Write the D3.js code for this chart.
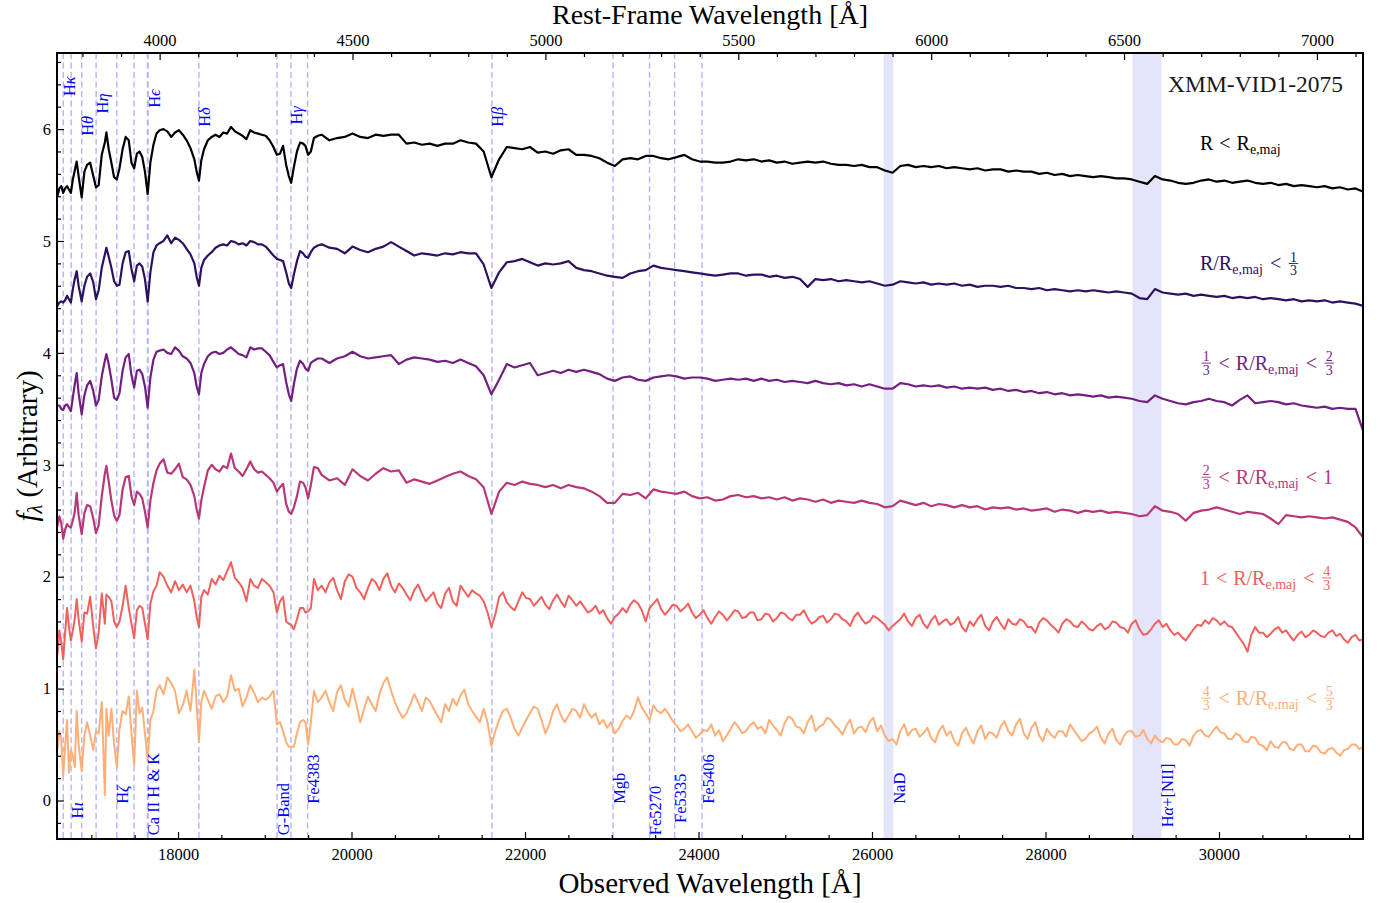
<!DOCTYPE html>
<html><head><meta charset="utf-8">
<script src="https://cdn.jsdelivr.net/npm/d3@7"></script>
<style>
body{margin:0;background:#fff;}
svg text{font-family:"Liberation Serif","Times New Roman",serif;}
</style></head><body>
<svg id="chart" width="1382" height="903"></svg>
<script>
// ---------------- DATA ----------------
const onePlusZ = 4.447;
const obsDomain = [16605, 31660];
const yDomain = [-0.344, 6.68];

const restWaveBlue = [3735,3740,3745,3750,3755,3760,3765,3770,3775,3780,3785,3790,
 3798,3805,3812,3820,3828,3835,3842,3850,3858,3862,3868,3875,3882,3889,3896,3904,3912,3920,3927,3934,3941,3948,3955,3962,3969,3976,3984,3992,
 4000,4010,4020,4030,4040,4050,4060,4070,4080,4090,
 4096,4102,4108,4115,
 4125,4135,4145,4155,4165,4175,4185,4195,4205,4215,4225,4235,4245,4255,4265,4275,4285,4295,
 4304,4312,4320,4328,4335,4341,4348,4356,4364,4372,4378,4385,4392,4400,4410];
const restWaveRed = [4420,4440,4460,4480,4500,4520,4540,4560,4580,4600,
 4620,4640,4660,4680,4700,4720,4740,4760,4780,4800,
 4820,4840,4860,4880,4900,4920,4940,4960,4980,5000,
 5020,5040,5060,5080,5100,5120,5140,5160,5180,5200,
 5220,5240,5260,5280,5300,5320,5340,5360,5380,5400,
 5420,5440,5460,5480,5500,5520,5540,5560,5580,5600,
 5620,5640,5660,5680,5700,5720,5740,5760,5780,5800,
 5820,5840,5860,5880,5900,5920,5940,5960,5980,6000,
 6020,6040,6060,6080,6100,6120,6140,6160,6180,6200,
 6220,6240,6260,6280,6300,6320,6340,6360,6380,6400,
 6420,6440,6460,6480,6500,6520,6540,6560,6580,6600,
 6620,6640,6660,6680,6700,6720,6740,6760,6780,6800,
 6820,6840,6860,6880,6900,6920,6940,6960,6980,7000,
 7020,7040,7060,7080,7100,7120];
// finer sampling used for the two noisiest (outermost) annuli
const restWaveRedFine = [4420,4430,4440,4450,4460,4470,4480,4490,4500,4510,4520,4530,4540,4550,4560,4570,4580,4590,4600,4610,
 4620,4630,4640,4650,4660,4670,4680,4690,4700,4710,4720,4730,4740,4750,4760,4770,4780,4790,4800,4810,
 4820,4830,4840,4850,4860,4870,4880,4890,4900,4910,4920,4930,4940,4950,4960,4970,4980,4990,5000,5010,
 5020,5030,5040,5050,5060,5070,5080,5090,5100,5110,5120,5130,5140,5150,5160,5170,5180,5190,5200,5210,
 5220,5230,5240,5250,5260,5270,5280,5290,5300,5310,5320,5330,5340,5350,5360,5370,5380,5390,5400,5410,
 5420,5430,5440,5450,5460,5470,5480,5490,5500,5510,5520,5530,5540,5550,5560,5570,5580,5590,5600,5610,
 5620,5630,5640,5650,5660,5670,5680,5690,5700,5710,5720,5730,5740,5750,5760,5770,5780,5790,5800,5810,
 5820,5830,5840,5850,5860,5870,5880,5890,5900,5910,5920,5930,5940,5950,5960,5970,5980,5990,6000,6010,
 6020,6030,6040,6050,6060,6070,6080,6090,6100,6110,6120,6130,6140,6150,6160,6170,6180,6190,6200,6210,
 6220,6230,6240,6250,6260,6270,6280,6290,6300,6310,6320,6330,6340,6350,6360,6370,6380,6390,6400,6410,
 6420,6430,6440,6450,6460,6470,6480,6490,6500,6510,6520,6530,6540,6550,6560,6570,6580,6590,6600,6610,
 6620,6630,6640,6650,6660,6670,6680,6690,6700,6710,6720,6730,6740,6750,6760,6770,6780,6790,6800,6810,
 6820,6830,6840,6850,6860,6870,6880,6890,6900,6910,6920,6930,6940,6950,6960,6970,6980,6990,7000,7010,
 7020,7030,7040,7050,7060,7070,7080,7090,7100,7110,7120];
const restWave = restWaveBlue.concat(restWaveRed);
const restWaveFine = restWaveBlue.concat(restWaveRedFine);

const fluxInner = [5.40,5.47,5.49,5.43,5.47,5.49,5.46,5.43,5.55,5.63,5.71,5.58,
 5.39,5.62,5.68,5.70,5.58,5.48,5.50,5.77,5.88,5.97,5.82,5.70,5.57,5.55,5.65,5.82,5.93,5.90,5.70,5.65,5.78,5.80,5.75,5.62,5.42,5.70,5.86,5.96,
 5.99,6.00,5.98,5.93,5.97,5.99,5.95,5.90,5.83,5.73,
 5.62,5.54,5.72,5.82,
 5.90,5.93,5.95,5.93,5.97,5.96,6.02,5.98,5.96,5.94,5.91,5.99,5.97,5.96,5.95,5.94,5.90,5.84,
 5.77,5.78,5.85,5.68,5.58,5.52,5.66,5.80,5.88,5.87,5.85,5.77,5.80,5.92,5.94,
 5.95,5.90,5.92,5.93,5.96,5.93,5.92,5.95,5.94,5.95,
 5.95,5.87,5.88,5.86,5.87,5.85,5.87,5.87,5.90,5.88,
 5.87,5.80,5.57,5.73,5.84,5.83,5.82,5.84,5.79,5.80,
 5.78,5.81,5.82,5.77,5.77,5.76,5.74,5.70,5.67,5.73,
 5.74,5.73,5.76,5.76,5.74,5.73,5.75,5.77,5.73,5.71,
 5.71,5.70,5.70,5.71,5.73,5.72,5.73,5.71,5.72,5.70,
 5.71,5.69,5.70,5.71,5.70,5.71,5.69,5.68,5.68,5.67,
 5.68,5.66,5.66,5.63,5.61,5.67,5.68,5.66,5.67,5.66,
 5.67,5.65,5.66,5.65,5.64,5.65,5.63,5.64,5.64,5.62,
 5.63,5.62,5.62,5.60,5.61,5.59,5.60,5.58,5.59,5.58,
 5.57,5.58,5.57,5.56,5.56,5.55,5.53,5.51,5.58,5.55,
 5.54,5.52,5.51,5.52,5.54,5.55,5.53,5.54,5.52,5.53,
 5.54,5.52,5.51,5.52,5.50,5.51,5.49,5.50,5.49,5.48,
 5.49,5.47,5.48,5.46,5.47,5.44];

const fluxBin1 = [4.42,4.45,4.46,4.45,4.47,4.51,4.48,4.45,4.57,4.66,4.73,4.60,
 4.46,4.60,4.68,4.71,4.63,4.48,4.56,4.76,4.88,4.94,4.86,4.76,4.64,4.60,4.61,4.80,4.90,4.91,4.75,4.64,4.78,4.80,4.77,4.66,4.46,4.72,4.90,4.96,
 4.98,5.00,5.05,4.98,5.03,5.01,4.98,4.93,4.88,4.80,
 4.68,4.60,4.76,4.83,
 4.87,4.90,4.94,4.96,4.97,4.96,5.00,4.99,4.97,4.98,4.96,5.00,4.99,4.97,4.97,4.95,4.91,4.87,
 4.84,4.83,4.82,4.72,4.62,4.58,4.70,4.82,4.91,4.89,4.86,4.85,4.90,4.94,4.96,
 4.97,4.94,4.93,4.89,4.95,4.92,4.90,4.93,4.95,4.99,
 4.95,4.91,4.87,4.89,4.88,4.87,4.89,4.88,4.90,4.89,
 4.89,4.79,4.58,4.72,4.81,4.82,4.84,4.81,4.78,4.80,
 4.79,4.80,4.82,4.76,4.74,4.73,4.71,4.69,4.68,4.67,
 4.71,4.73,4.74,4.78,4.76,4.75,4.74,4.73,4.72,4.71,
 4.70,4.69,4.70,4.71,4.71,4.69,4.70,4.70,4.68,4.69,
 4.67,4.68,4.66,4.59,4.66,4.65,4.66,4.64,4.65,4.64,
 4.63,4.64,4.62,4.60,4.61,4.64,4.63,4.62,4.63,4.61,
 4.62,4.61,4.62,4.60,4.61,4.59,4.60,4.60,4.59,4.60,
 4.58,4.58,4.57,4.58,4.56,4.57,4.56,4.55,4.56,4.55,
 4.56,4.55,4.54,4.55,4.54,4.53,4.49,4.48,4.57,4.54,
 4.53,4.52,4.53,4.51,4.52,4.51,4.50,4.51,4.49,4.50,
 4.49,4.50,4.48,4.49,4.48,4.47,4.48,4.46,4.47,4.46,
 4.47,4.45,4.46,4.45,4.44,4.42];

const fluxBin2 = [3.53,3.53,3.50,3.49,3.53,3.54,3.51,3.48,3.60,3.72,3.82,3.64,
 3.45,3.62,3.71,3.75,3.66,3.53,3.58,3.79,3.93,3.99,3.90,3.76,3.60,3.58,3.64,3.84,3.96,3.99,3.80,3.69,3.84,3.85,3.81,3.70,3.51,3.78,3.94,4.01,
 4.02,4.03,4.00,3.99,4.05,4.02,3.97,3.95,3.91,3.82,
 3.70,3.63,3.82,3.90,
 3.97,4.00,4.01,3.99,4.00,4.03,4.05,4.02,3.99,3.98,3.96,4.05,4.03,4.04,4.04,4.01,3.98,3.92,
 3.87,3.89,3.90,3.74,3.63,3.57,3.72,3.86,3.93,3.90,3.86,3.84,3.91,3.93,3.95,
 3.95,3.91,3.95,3.97,4.01,3.97,3.95,3.96,3.97,3.98,
 3.90,3.94,3.96,3.95,3.94,3.92,3.93,3.91,3.94,3.91,
 3.88,3.80,3.63,3.76,3.90,3.87,3.89,3.91,3.80,3.82,
 3.84,3.82,3.85,3.83,3.85,3.83,3.81,3.77,3.75,3.78,
 3.79,3.76,3.75,3.78,3.79,3.80,3.79,3.77,3.78,3.78,
 3.77,3.75,3.76,3.77,3.76,3.77,3.75,3.77,3.75,3.76,
 3.74,3.75,3.74,3.73,3.75,3.73,3.72,3.73,3.71,3.72,
 3.70,3.72,3.70,3.68,3.68,3.73,3.72,3.70,3.71,3.70,
 3.71,3.69,3.70,3.68,3.69,3.68,3.69,3.67,3.68,3.66,
 3.67,3.65,3.66,3.64,3.65,3.63,3.64,3.62,3.63,3.62,
 3.61,3.62,3.60,3.61,3.60,3.59,3.57,3.56,3.62,3.59,
 3.57,3.55,3.54,3.56,3.57,3.59,3.57,3.56,3.53,3.58,
 3.62,3.55,3.56,3.57,3.56,3.54,3.55,3.53,3.52,3.51,
 3.52,3.50,3.51,3.50,3.50,3.30];

const fluxBin3 = [2.45,2.54,2.48,2.34,2.42,2.47,2.45,2.44,2.50,2.58,2.75,2.55,
 2.38,2.57,2.64,2.63,2.52,2.39,2.46,2.72,2.92,2.99,2.85,2.68,2.55,2.50,2.55,2.78,2.89,2.90,2.72,2.64,2.76,2.74,2.70,2.58,2.44,2.68,2.84,2.95,
 3.01,3.05,2.93,2.92,2.96,3.01,2.89,2.87,2.82,2.72,
 2.60,2.52,2.68,2.80,
 2.95,3.00,2.96,2.94,2.99,2.97,3.10,2.97,2.94,2.90,2.96,3.03,2.96,2.93,2.94,2.91,2.88,2.84,
 2.76,2.80,2.83,2.65,2.58,2.56,2.62,2.72,2.85,2.84,2.80,2.70,2.82,2.98,2.97,
 2.91,2.86,2.88,2.82,2.96,2.90,2.86,2.92,2.97,2.94,
 2.95,2.84,2.87,2.85,2.83,2.86,2.89,2.92,2.94,2.90,
 2.87,2.80,2.56,2.76,2.84,2.82,2.85,2.83,2.82,2.80,
 2.82,2.79,2.82,2.80,2.79,2.76,2.72,2.66,2.66,2.74,
 2.73,2.75,2.70,2.78,2.76,2.75,2.74,2.76,2.72,2.70,
 2.71,2.68,2.69,2.72,2.73,2.71,2.72,2.70,2.71,2.69,
 2.71,2.68,2.70,2.69,2.67,2.69,2.66,2.68,2.67,2.66,
 2.68,2.66,2.65,2.62,2.63,2.68,2.66,2.64,2.66,2.63,
 2.65,2.64,2.62,2.64,2.62,2.63,2.60,2.62,2.61,2.62,
 2.60,2.61,2.59,2.60,2.61,2.58,2.60,2.59,2.57,2.59,
 2.58,2.59,2.57,2.58,2.57,2.56,2.54,2.55,2.63,2.59,
 2.58,2.56,2.50,2.57,2.59,2.60,2.62,2.60,2.58,2.56,
 2.58,2.57,2.56,2.52,2.47,2.55,2.54,2.53,2.54,2.53,
 2.52,2.53,2.51,2.49,2.44,2.35];

const fluxBin4 = [1.30,1.52,1.42,1.26,1.50,1.72,1.55,1.43,1.52,1.62,1.80,1.62,
 1.42,1.68,1.67,1.82,1.55,1.36,1.50,1.85,1.58,1.84,1.82,1.78,1.60,1.55,1.60,1.74,1.92,1.72,1.58,1.45,1.70,1.74,1.72,1.58,1.44,1.76,1.87,1.92,
 2.04,2.00,1.92,1.86,1.96,1.88,1.93,1.86,1.92,1.78,
 1.64,1.55,1.82,1.88,
 1.84,1.98,1.93,2.01,1.97,2.05,2.13,1.99,1.95,1.90,1.78,1.98,1.92,1.90,1.98,1.95,1.92,1.86,
 1.68,1.78,1.82,1.60,1.58,1.57,1.53,1.62,1.72,1.72,1.68,1.69,1.72,1.98,1.88,
 1.92,1.86,1.95,1.99,1.88,1.80,1.96,2.02,2.00,1.90,1.86,1.80,1.90,1.98,1.95,1.88,1.98,2.03,1.92,1.86,
 1.94,1.90,1.84,1.79,1.88,1.93,1.85,1.78,1.82,1.86,1.76,1.72,1.85,1.90,1.78,1.74,1.92,1.87,1.82,1.88,
 1.85,1.83,1.78,1.68,1.55,1.66,1.82,1.86,1.77,1.73,1.70,1.78,1.86,1.81,1.80,1.74,1.78,1.82,1.75,1.71,
 1.79,1.84,1.78,1.73,1.83,1.79,1.74,1.78,1.73,1.68,1.70,1.74,1.67,1.70,1.63,1.58,1.64,1.67,1.72,1.68,
 1.75,1.79,1.76,1.70,1.60,1.72,1.76,1.80,1.71,1.66,1.70,1.75,1.74,1.69,1.72,1.76,1.68,1.63,1.66,1.70,
 1.63,1.58,1.64,1.69,1.66,1.61,1.65,1.70,1.69,1.63,1.64,1.68,1.68,1.61,1.62,1.67,1.66,1.60,1.63,1.68,
 1.67,1.63,1.61,1.66,1.66,1.70,1.63,1.58,1.60,1.64,1.65,1.59,1.62,1.67,1.66,1.62,1.60,1.56,1.64,1.68,
 1.62,1.58,1.60,1.65,1.63,1.60,1.57,1.52,1.56,1.59,1.62,1.67,1.60,1.56,1.63,1.66,1.58,1.54,1.61,1.65,
 1.57,1.60,1.62,1.57,1.59,1.64,1.55,1.51,1.60,1.56,1.62,1.66,1.56,1.52,1.60,1.64,1.58,1.53,1.62,1.58,
 1.57,1.62,1.60,1.55,1.55,1.50,1.59,1.63,1.61,1.57,1.54,1.50,1.58,1.62,1.60,1.56,1.55,1.60,1.57,1.53,
 1.52,1.56,1.58,1.53,1.55,1.60,1.59,1.55,1.54,1.50,1.58,1.61,1.53,1.48,1.49,1.53,1.58,1.61,1.55,1.58,
 1.52,1.48,1.50,1.46,1.43,1.48,1.53,1.57,1.56,1.61,1.58,1.63,1.61,1.57,1.60,1.56,1.55,1.50,1.45,1.40,
 1.33,1.48,1.55,1.50,1.50,1.46,1.49,1.53,1.55,1.50,1.52,1.47,1.43,1.48,1.51,1.46,1.48,1.52,1.50,1.47,
 1.46,1.50,1.52,1.47,1.49,1.44,1.41,1.46,1.48,1.43,1.44];

const fluxBin5 = [0.45,0.62,0.55,0.22,0.48,0.72,0.25,0.45,0.40,0.30,0.80,0.50,
 0.26,0.58,0.70,0.58,0.45,0.62,0.60,0.88,0.05,0.82,0.58,0.82,0.50,0.30,0.64,0.80,0.77,0.93,0.60,0.32,0.98,0.78,0.83,0.60,0.36,0.72,0.80,0.98,
 1.03,0.95,1.10,1.05,0.98,0.78,0.85,0.98,0.80,1.17,
 0.85,0.52,0.88,0.98,
 0.90,0.82,0.93,0.95,0.88,0.93,1.12,0.98,1.00,0.84,0.92,1.03,0.96,0.88,0.92,0.90,0.93,0.98,
 0.68,0.70,0.62,0.52,0.48,0.48,0.48,0.60,0.70,0.72,0.70,0.50,0.70,0.98,0.88,
 0.92,0.98,0.88,0.80,0.97,1.03,0.90,0.84,1.00,0.86,0.70,0.82,0.93,0.86,0.80,0.95,1.05,1.10,0.98,0.88,
 0.80,0.74,0.78,0.86,0.95,0.88,0.80,0.92,0.89,0.82,0.76,0.70,0.86,0.80,0.91,0.85,0.94,0.99,0.86,0.80,
 0.75,0.70,0.82,0.70,0.49,0.62,0.72,0.80,0.82,0.74,0.64,0.58,0.65,0.72,0.78,0.84,0.82,0.72,0.60,0.68,
 0.80,0.86,0.76,0.70,0.76,0.82,0.80,0.74,0.86,0.79,0.74,0.78,0.68,0.72,0.65,0.70,0.60,0.64,0.71,0.76,
 0.73,0.80,0.92,0.83,0.78,0.72,0.85,0.80,0.78,0.82,0.77,0.71,0.67,0.62,0.64,0.68,0.62,0.56,0.59,0.63,
 0.62,0.68,0.58,0.63,0.53,0.58,0.64,0.70,0.66,0.60,0.62,0.67,0.70,0.64,0.66,0.60,0.72,0.67,0.63,0.58,
 0.69,0.75,0.73,0.66,0.65,0.60,0.70,0.76,0.62,0.66,0.68,0.74,0.72,0.67,0.64,0.59,0.67,0.72,0.60,0.65,
 0.66,0.61,0.70,0.74,0.62,0.67,0.58,0.53,0.55,0.50,0.62,0.68,0.58,0.63,0.64,0.57,0.60,0.65,0.56,0.52,
 0.62,0.67,0.58,0.62,0.53,0.49,0.60,0.65,0.57,0.51,0.62,0.67,0.55,0.61,0.60,0.56,0.66,0.71,0.62,0.58,
 0.68,0.73,0.60,0.55,0.65,0.70,0.58,0.53,0.64,0.59,0.56,0.62,0.62,0.57,0.68,0.63,0.58,0.53,0.55,0.60,
 0.62,0.66,0.56,0.51,0.60,0.64,0.54,0.50,0.58,0.62,0.62,0.57,0.58,0.63,0.55,0.51,0.58,0.54,0.52,0.56,
 0.55,0.50,0.50,0.55,0.54,0.49,0.58,0.62,0.63,0.58,0.57,0.62,0.66,0.61,0.60,0.55,0.55,0.60,0.58,0.53,
 0.52,0.57,0.56,0.50,0.49,0.45,0.53,0.48,0.47,0.52,0.52,0.46,0.45,0.50,0.50,0.44,0.44,0.49,0.48,0.43,
 0.42,0.46,0.47,0.43,0.40,0.45,0.46,0.50,0.50,0.46,0.48];

const seriesFlux = [fluxInner, fluxBin1, fluxBin2, fluxBin3, fluxBin4, fluxBin5];
const seriesWave = [restWave, restWave, restWave, restWave, restWaveFine, restWaveFine];
const seriesLabels = ["R < R_{e,maj}", "R/R_{e,maj} < {1/3}", "{1/3} < R/R_{e,maj} < {2/3}",
  "{2/3} < R/R_{e,maj} < 1", "1 < R/R_{e,maj} < {4/3}", "{4/3} < R/R_{e,maj} < {5/3}"];
const seriesLabelY = [5.81, 4.74, 3.85, 2.83, 1.93, 0.855];
const seriesLabelWave = 29780;

// spectral features: rest wavelength, label, label flux position
const lineRest   = [3750.15, 3770.63, 3797.90, 3835.38, 3889.05, 3933.66, 3968.47, 3970.07, 4101.74, 4304.4, 4340.47, 4383.55, 4861.33, 5175.4, 5270.0, 5335.0, 5406.0];
const lineLabels = ["H|κ", "H|ι", "H|θ", "H|η", "H|ζ", "", "Ca II H & K", "H|ϵ", "H|δ", "G-Band", "H|γ", "Fe4383", "H|β", "Mgb", "Fe5270", "Fe5335", "Fe5406"];
const lineLabelY = [6.295, -0.16, 5.94, 6.14, -0.03, null, -0.31, 6.19, 6.02, -0.31, 6.04, -0.03, 6.02, -0.03, -0.31, -0.20, -0.03];
const bandRest   = [[5877, 5902], [6522, 6597]];
const bandLabels = ["NaD", "H|α|+[NII]"];
const bandLabelY = [-0.03, -0.24];

const obsTicks = [18000, 20000, 22000, 24000, 26000, 28000, 30000];
const restTicks = [4000, 4500, 5000, 5500, 6000, 6500, 7000];
const yTicks = [0, 1, 2, 3, 4, 5, 6];

// ---------------- STYLE ----------------
const colors = ["#000000", "#2c115f", "#721f81", "#b73779", "#f1605d", "#feaf77"];
const L = 57, R = 1363, T = 53, B = 839;
const svg = d3.select("#chart");

const x = d3.scaleLinear().domain(obsDomain).range([L, R]);
const xr = d3.scaleLinear().domain(obsDomain.map(d => d / onePlusZ)).range([L, R]);
const y = d3.scaleLinear().domain(yDomain).range([B, T]);

svg.append("defs").append("clipPath").attr("id", "clip")
  .append("rect").attr("x", L).attr("y", T).attr("width", R - L).attr("height", B - T);
const plot = svg.append("g").attr("clip-path", "url(#clip)");

bandRest.forEach(b => {
  plot.append("rect").attr("x", x(b[0] * onePlusZ)).attr("y", T)
    .attr("width", x(b[1] * onePlusZ) - x(b[0] * onePlusZ)).attr("height", B - T)
    .attr("fill", "#e4e4fb");
});
lineRest.forEach(w => {
  plot.append("line").attr("x1", x(w * onePlusZ)).attr("x2", x(w * onePlusZ))
    .attr("y1", T).attr("y2", B).attr("stroke", "#b4b4fa").attr("stroke-width", 1.4)
    .attr("stroke-dasharray", "6,3.5");
});

seriesFlux.forEach((f, k) => {
  const wv = seriesWave[k];
  const gen = d3.line().x((d, i) => x(wv[i] * onePlusZ)).y(d => y(d));
  plot.append("path").attr("d", gen(f)).attr("fill", "none")
    .attr("stroke", colors[k]).attr("stroke-width", k >= 4 ? 2.0 : 2.2).attr("stroke-linejoin", "round");
});

function rotLabel(px, val, label) {
  const g = svg.append("g").attr("transform", `translate(${px + 11.5},${y(val)}) rotate(-90)`);
  const t = g.append("text").attr("x", 0).attr("y", 0).attr("fill", "#0000ff").style("font-size", "16.5px");
  label.split("|").forEach((s, i) => {
    t.append("tspan").style("font-style", (i % 2 === 1) ? "italic" : "normal").text(s);
  });
}
lineRest.forEach((w, i) => { if (lineLabels[i]) rotLabel(x(w * onePlusZ), lineLabelY[i], lineLabels[i]); });
bandRest.forEach((b, i) => rotLabel(x(b[1] * onePlusZ), bandLabelY[i], bandLabels[i]));

function mathLabel(px, py, str, fs, color) {
  const g = svg.append("g").attr("transform", `translate(${px},${py})`);
  const re = /(\{\d+\/\d+\})|(_\{[^}]*\})|( < )/g;
  const parts = []; let last = 0, m;
  while ((m = re.exec(str))) {
    if (m.index > last) parts.push({ t: "txt", s: str.slice(last, m.index) });
    if (m[1]) { const ab = m[1].slice(1, -1).split("/"); parts.push({ t: "frac", a: ab[0], b: ab[1] }); }
    else if (m[2]) parts.push({ t: "sub", s: m[2].slice(2, -1) });
    else parts.push({ t: "rel" });
    last = re.lastIndex;
  }
  if (last < str.length) parts.push({ t: "txt", s: str.slice(last) });
  let cx = 0;
  const txt = (s, xx, yy, size, anchor) => g.append("text").attr("x", xx).attr("y", yy)
    .attr("fill", color).style("font-size", size + "px").attr("text-anchor", anchor || "start").text(s);
  parts.forEach(p => {
    if (p.t === "txt") { cx += txt(p.s, cx, 0, fs).node().getComputedTextLength(); }
    else if (p.t === "rel") { cx += fs * 0.3; cx += txt("<", cx, 0, fs).node().getComputedTextLength(); cx += fs * 0.3; }
    else if (p.t === "sub") { cx += txt(p.s, cx, fs * 0.2, fs * 0.7).node().getComputedTextLength() + 1; }
    else {
      const s2 = fs * 0.7;
      const na = txt(p.a, 0, 0, s2, "middle"), nb = txt(p.b, 0, 0, s2, "middle");
      const w = Math.max(na.node().getComputedTextLength(), nb.node().getComputedTextLength()) + fs * 0.12;
      const c = cx + fs * 0.08 + w / 2;
      na.attr("x", c).attr("y", -fs * 0.42);
      nb.attr("x", c).attr("y", fs * 0.27);
      g.append("line").attr("x1", c - w / 2).attr("x2", c + w / 2).attr("y1", -fs * 0.33).attr("y2", -fs * 0.33)
        .attr("stroke", color).attr("stroke-width", 0.9);
      cx += w + fs * 0.16;
    }
  });
}
seriesLabels.forEach((s, k) => mathLabel(x(seriesLabelWave), y(seriesLabelY[k]), s, 20, colors[k]));

svg.append("text").attr("x", 1343).attr("y", 92).attr("text-anchor", "end")
  .attr("fill", "#1a1a1a").style("font-size", "23.5px").text("XMM-VID1-2075");

function styleAxis(g) {
  g.select(".domain").remove();
  g.selectAll(".tick line").attr("stroke", "#000").attr("stroke-width", 1.2);
  g.selectAll(".tick text").style("font-size", "16.5px").attr("fill", "#000")
    .style("font-family", '"Liberation Serif","Times New Roman",serif');
}
const fmt = d3.format("d");
const obsMinor = d3.range(17000, 31700, 500).filter(v => obsTicks.indexOf(v) < 0);
const restMinor = d3.range(3800, 7200, 100).filter(v => restTicks.indexOf(v) < 0);
const yMinor = d3.range(-2, 67, 2).map(v => v / 10).filter(v => yTicks.indexOf(v) < 0);

svg.append("g").attr("transform", `translate(0,${B})`)
  .call(d3.axisBottom(x).tickValues(obsTicks).tickFormat(fmt).tickSize(-7).tickPadding(9)).call(styleAxis);
svg.append("g").attr("transform", `translate(0,${B})`)
  .call(d3.axisBottom(x).tickValues(obsMinor).tickFormat("").tickSize(-4)).call(styleAxis);
svg.append("g").attr("transform", `translate(0,${T})`)
  .call(d3.axisTop(xr).tickValues(restTicks).tickFormat(fmt).tickSize(-7).tickPadding(7)).call(styleAxis);
svg.append("g").attr("transform", `translate(0,${T})`)
  .call(d3.axisTop(xr).tickValues(restMinor).tickFormat("").tickSize(-4)).call(styleAxis);
svg.append("g").attr("transform", `translate(${L},0)`)
  .call(d3.axisLeft(y).tickValues(yTicks).tickFormat(fmt).tickSize(-7).tickPadding(6)).call(styleAxis);
svg.append("g").attr("transform", `translate(${L},0)`)
  .call(d3.axisLeft(y).tickValues(yMinor).tickFormat("").tickSize(-4)).call(styleAxis);

svg.append("rect").attr("x", L).attr("y", T).attr("width", R - L).attr("height", B - T)
  .attr("fill", "none").attr("stroke", "#000").attr("stroke-width", 2);

svg.append("text").attr("x", (L + R) / 2).attr("y", 893).attr("text-anchor", "middle")
  .style("font-size", "29px").text("Observed Wavelength [Å]");
svg.append("text").attr("x", (L + R) / 2).attr("y", 24).attr("text-anchor", "middle")
  .style("font-size", "28px").text("Rest-Frame Wavelength [Å]");
const yl = svg.append("text").attr("transform", `translate(37,${(T + B) / 2}) rotate(-90)`)
  .attr("text-anchor", "middle").style("font-size", "29px");
yl.append("tspan").style("font-style", "italic").text("f");
yl.append("tspan").attr("dy", 5).style("font-size", "20px").style("font-style", "italic").text("λ");
yl.append("tspan").attr("dy", -5).text(" (Arbitrary)");
</script>
</body></html>
